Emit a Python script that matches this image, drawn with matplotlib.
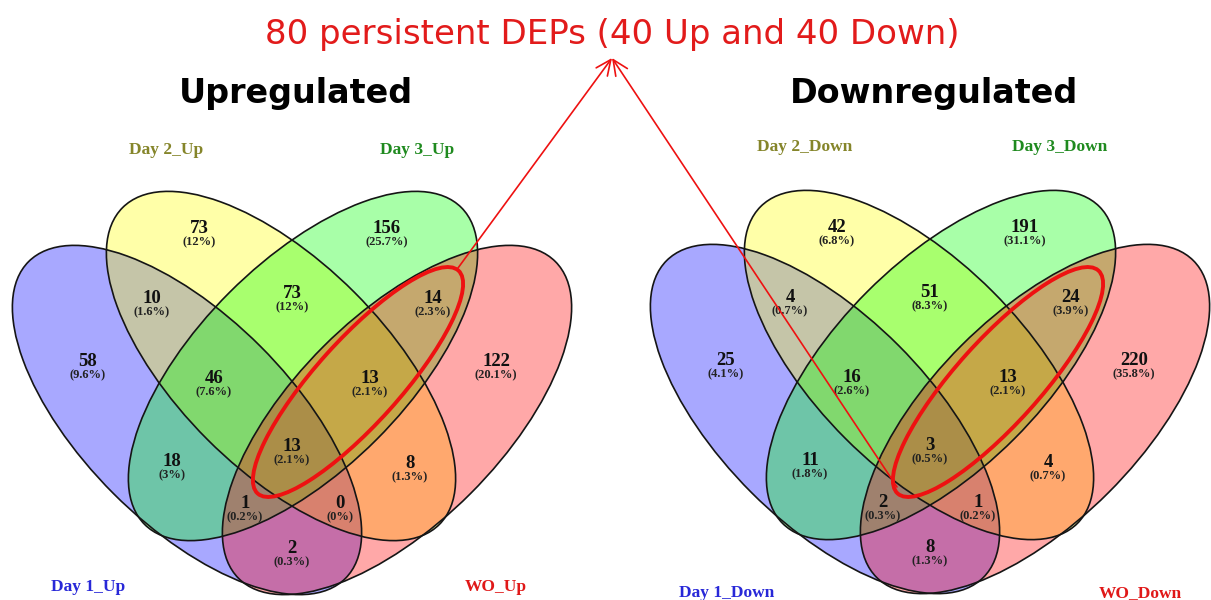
import matplotlib
matplotlib.use("Agg")
import matplotlib.pyplot as plt
from matplotlib.patches import Ellipse

# Venn regions (A = Day 1, B = Day 2, C = Day 3, D = WO)
regions = ["A", "B", "C", "D", "AB", "BC", "CD", "ABC", "BCD",
           "AC", "ABCD", "BD", "ACD", "ABD", "AD"]

up_sets = ["Day 1_Up", "Day 2_Up", "Day 3_Up", "WO_Up"]
up_counts = [58, 73, 156, 122, 10, 73, 14, 46, 13, 18, 13, 8, 1, 0, 2]
up_pct = [9.6, 12, 25.7, 20.1, 1.6, 12, 2.3, 7.6, 2.1, 3, 2.1, 1.3, 0.2, 0, 0.3]

down_sets = ["Day 1_Down", "Day 2_Down", "Day 3_Down", "WO_Down"]
down_counts = [25, 42, 191, 220, 4, 51, 24, 16, 13, 11, 3, 4, 2, 1, 8]
down_pct = [4.1, 6.8, 31.1, 35.8, 0.7, 8.3, 3.9, 2.6, 2.1, 1.8, 0.5, 0.7, 0.3, 0.2, 1.3]

panel_titles = ["Upregulated", "Downregulated"]
headline = "80 persistent DEPs (40 Up and 40 Down)"

# ---- layout (pixel space, y downwards) ----
W, H = 1211, 600
fig = plt.figure(figsize=(W / 100, H / 100), dpi=100)
ax = fig.add_axes([0, 0, 1, 1])
ax.set_xlim(0, W)
ax.set_ylim(H, 0)
ax.axis("off")

set_fill = ["#0000ff", "#ffff00", "#00ff00", "#ff0000"]
set_label_col = ["#2828d8", "#85852a", "#1f8a1f", "#e01818"]
ell_a, ell_b = 224, 104
# ellipse centres (dx from the panel axis, y) and tilt
ell_geom = [(-105, 420, 45), (-11, 366, 45), (11, 366, -45), (105, 420, -45)]

# label anchors, dx from the panel axis and y (centre of the count)
label_pos = {
    "A": (-204, 360), "B": (-93, 227), "C": (95, 227), "D": (204, 360),
    "AB": (-140, 297), "BC": (0, 292), "CD": (141, 297),
    "ABC": (-78, 377), "BCD": (78, 377),
    "AC": (-120, 460), "ABCD": (0, 445), "BD": (118, 462),
    "ACD": (-47, 502), "ABD": (48, 502), "AD": (0, 547),
}

panels = [
    dict(x0=292, dy=0, sets=up_sets, counts=up_counts, pct=up_pct,
         title=panel_titles[0], top_y=154, bot_y=591, lx=[-204, -126, 125, 204]),
    dict(x0=930, dy=-1, sets=down_sets, counts=down_counts, pct=down_pct,
         title=panel_titles[1], top_y=151, bot_y=597, lx=[-203, -125, 130, 210]),
]

serif = "Liberation Serif"

for p in panels:
    x0, dy = p["x0"], p["dy"]
    # filled ellipses first, outlines on top
    for (ex, ey, ang), col in zip(ell_geom, set_fill):
        ax.add_patch(Ellipse((x0 + ex, ey + dy), 2 * ell_a, 2 * ell_b, angle=ang,
                             facecolor=col, alpha=0.34, edgecolor="none", zorder=1))
    for (ex, ey, ang) in ell_geom:
        ax.add_patch(Ellipse((x0 + ex, ey + dy), 2 * ell_a, 2 * ell_b, angle=ang,
                             facecolor="none", edgecolor="#151515", lw=1.2, zorder=2))

    for reg, n, pc in zip(regions, p["counts"], p["pct"]):
        rx, ry = label_pos[reg]
        ax.text(x0 + rx, ry + dy + 6.3, f"{n}", ha="center", va="baseline",
                fontsize=13.5, fontweight="bold", family=serif, color="#111111", zorder=5)
        ax.text(x0 + rx, ry + dy + 14.5 + 4.2, f"({pc:g}%)", ha="center", va="baseline",
                fontsize=9, fontweight="bold", family=serif, color="#222222", zorder=5)

    # set names
    ly = [p["bot_y"], p["top_y"], p["top_y"], p["bot_y"]]
    for name, x, y, c in zip(p["sets"], p["lx"], ly, set_label_col):
        ax.text(x0 + x, y, name, ha="center", va="baseline", fontsize=12.5,
                fontweight="bold", family=serif, color=c, zorder=5)

    ax.text(x0 + 4, 103, p["title"], ha="center", va="baseline", fontsize=24,
            fontweight="bold", family="DejaVu Sans", color="black", zorder=5)

    # persistent subset highlighted in red
    ax.add_patch(Ellipse((x0 + 66 + (2 if dy else 0), 382), 300, 84, angle=-48,
                         facecolor="none", edgecolor="#ee1111", lw=2.8, zorder=4))

# headline with arrows from both highlighted groups
apex = (612, 58)
ax.text(612, 44, headline, ha="center", va="baseline", fontsize=24.5,
        family="DejaVu Sans", color="#e21b1b", zorder=5)
for start in [(458, 268), (897, 487)]:
    ax.annotate("", xy=apex, xytext=start, zorder=6,
                arrowprops=dict(arrowstyle="->,head_length=0.55,head_width=0.25",
                                color="#ee1111", lw=1.2, mutation_scale=20,
                                shrinkA=0, shrinkB=0))

fig.savefig("out.png", dpi=100)
